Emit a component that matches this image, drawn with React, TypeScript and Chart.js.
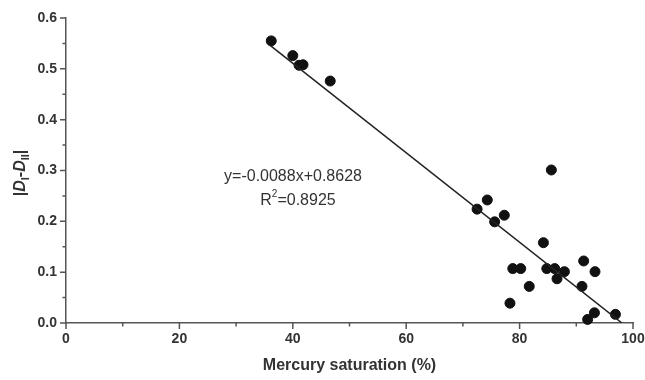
import { useEffect, useRef } from "react";
import { Chart, registerables } from "chart.js";

Chart.register(...registerables);

// Mercury saturation (%) of each sample
const saturation = [
  36.2, 40.0, 41.1, 41.8, 46.6, 72.5, 74.3, 75.6, 77.3, 78.3, 78.8, 80.2, 81.7,
  84.2, 84.8, 85.6, 86.2, 86.6, 87.9, 91.0, 91.3, 92.0, 93.2, 93.3, 96.9,
];
// |D_I - D_II| of each sample
const dimDiff = [
  0.555, 0.526, 0.507, 0.508, 0.476, 0.224, 0.242, 0.199, 0.212, 0.039, 0.107,
  0.107, 0.072, 0.158, 0.107, 0.301, 0.107, 0.087, 0.101, 0.072, 0.122, 0.007,
  0.02, 0.101, 0.017,
];

// Linear fit reported on the chart
const fitSlope = -0.0088;
const fitIntercept = 0.8628;
const fitR2 = 0.8925;
const fitFrom = 36;
const fitTo = 98;

const xTickValues = [0, 20, 40, 60, 80, 100];
const yTickValues = [0.0, 0.1, 0.2, 0.3, 0.4, 0.5, 0.6];

const FONT = '"Liberation Sans", Arial, Helvetica, sans-serif';
const AXIS_COLOR = "#555";
const TEXT_COLOR = "#333";

const decorations = {
  id: "decorations",
  afterDraw(chart: any) {
    const { ctx, chartArea } = chart;
    const xs = chart.scales.x;
    const ys = chart.scales.y;
    ctx.save();

    // outward tick marks, major and minor
    ctx.strokeStyle = AXIS_COLOR;
    ctx.lineWidth = 1.5;
    ctx.beginPath();
    for (let v = 0; v <= 100; v += 10) {
      const px = xs.getPixelForValue(v);
      const len = v % 20 === 0 ? 6 : 3.5;
      ctx.moveTo(px, chartArea.bottom);
      ctx.lineTo(px, chartArea.bottom + len);
    }
    for (let i = 0; i <= 12; i++) {
      const py = ys.getPixelForValue(i * 0.05);
      const len = i % 2 === 0 ? 6 : 3.5;
      ctx.moveTo(chartArea.left, py);
      ctx.lineTo(chartArea.left - len, py);
    }
    ctx.stroke();

    ctx.fillStyle = TEXT_COLOR;

    // x axis title
    ctx.font = `bold 16px ${FONT}`;
    ctx.textAlign = "center";
    ctx.textBaseline = "middle";
    ctx.fillText("Mercury saturation (%)", (chartArea.left + chartArea.right) / 2, 366);

    // y axis title: |D_I-D_II|
    const parts: { t: string; italic?: boolean; sub?: boolean }[] = [
      { t: "|" },
      { t: "D", italic: true },
      { t: "I", sub: true },
      { t: "-" },
      { t: "D", italic: true },
      { t: "II", sub: true },
      { t: "|" },
    ];
    const fontFor = (p: any) =>
      `${p.italic ? "italic " : ""}bold ${p.sub ? 11 : 16}px ${FONT}`;
    let total = 0;
    for (const p of parts) {
      ctx.font = fontFor(p);
      total += ctx.measureText(p.t).width;
    }
    ctx.translate(20, 173);
    ctx.rotate(-Math.PI / 2);
    ctx.textAlign = "left";
    ctx.textBaseline = "alphabetic";
    let cx = -total / 2;
    for (const p of parts) {
      ctx.font = fontFor(p);
      ctx.fillText(p.t, cx, p.sub ? 9 : 5);
      cx += ctx.measureText(p.t).width;
    }
    ctx.setTransform(1, 0, 0, 1, 0, 0);

    // fit equation
    ctx.font = `16px ${FONT}`;
    ctx.textAlign = "center";
    ctx.textBaseline = "alphabetic";
    const eq = `y=${fitSlope.toFixed(4)}x+${fitIntercept.toFixed(4)}`;
    ctx.fillText(eq, 293, 181);
    const r1 = "R";
    const r2 = `=${fitR2.toFixed(4)}`;
    ctx.font = `16px ${FONT}`;
    const w1 = ctx.measureText(r1).width;
    const w3 = ctx.measureText(r2).width;
    ctx.font = `10px ${FONT}`;
    const w2 = ctx.measureText("2").width;
    let rx = 298 - (w1 + w2 + w3) / 2;
    ctx.textAlign = "left";
    ctx.font = `16px ${FONT}`;
    ctx.fillText(r1, rx, 205);
    rx += w1;
    ctx.font = `10px ${FONT}`;
    ctx.fillText("2", rx, 197);
    rx += w2;
    ctx.font = `16px ${FONT}`;
    ctx.fillText(r2, rx, 205);

    ctx.restore();
  },
};

export default function App() {
  const canvasRef = useRef<HTMLCanvasElement>(null);

  useEffect(() => {
    const canvas = canvasRef.current;
    if (!canvas) return;

    const points = saturation.map((x, i) => ({ x, y: dimDiff[i] }));
    const fitLine = [fitFrom, fitTo].map((x) => ({ x, y: fitSlope * x + fitIntercept }));

    const chart = new Chart(canvas, {
      type: "scatter",
      data: {
        datasets: [
          {
            type: "line",
            data: fitLine,
            borderColor: "#222",
            borderWidth: 1.5,
            pointRadius: 0,
            fill: false,
          },
          {
            data: points,
            backgroundColor: "#111",
            borderColor: "#111",
            pointRadius: 5,
            pointHoverRadius: 5,
            clip: false,
          },
        ],
      },
      options: {
        responsive: false,
        animation: false,
        layout: { padding: { top: 18, right: 0, left: 0, bottom: 0 } },
        plugins: {
          legend: { display: false },
          tooltip: { enabled: false },
        },
        scales: {
          x: {
            type: "linear",
            min: 0,
            max: 100,
            afterBuildTicks: (s: any) => {
              s.ticks = xTickValues.map((value) => ({ value }));
            },
            afterFit: (s: any) => {
              s.height = 57;
              s.paddingLeft = 0;
              s.paddingRight = 12;
            },
            grid: { display: true, drawOnChartArea: false, drawTicks: false },
            border: { display: true, color: AXIS_COLOR, width: 1.5 },
            ticks: {
              padding: 8,
              color: TEXT_COLOR,
              font: { family: FONT, size: 14, weight: "bold" },
              maxRotation: 0,
            },
          },
          y: {
            type: "linear",
            min: 0,
            max: 0.6,
            afterBuildTicks: (s: any) => {
              s.ticks = yTickValues.map((value) => ({ value }));
            },
            afterFit: (s: any) => {
              s.width = 66;
              s.paddingTop = 0;
              s.paddingBottom = 0;
            },
            grid: { display: true, drawOnChartArea: false, drawTicks: false },
            border: { display: true, color: AXIS_COLOR, width: 1.5 },
            ticks: {
              padding: 9,
              color: TEXT_COLOR,
              font: { family: FONT, size: 14, weight: "bold" },
              callback: (v: any) => Number(v).toFixed(1),
            },
          },
        },
      },
      plugins: [decorations],
    });

    return () => chart.destroy();
  }, []);

  return (
    <div style={{ position: "absolute", left: 0, top: 0, width: 645, height: 380, background: "#fff" }}>
      <canvas ref={canvasRef} width={645} height={380} />
    </div>
  );
}
